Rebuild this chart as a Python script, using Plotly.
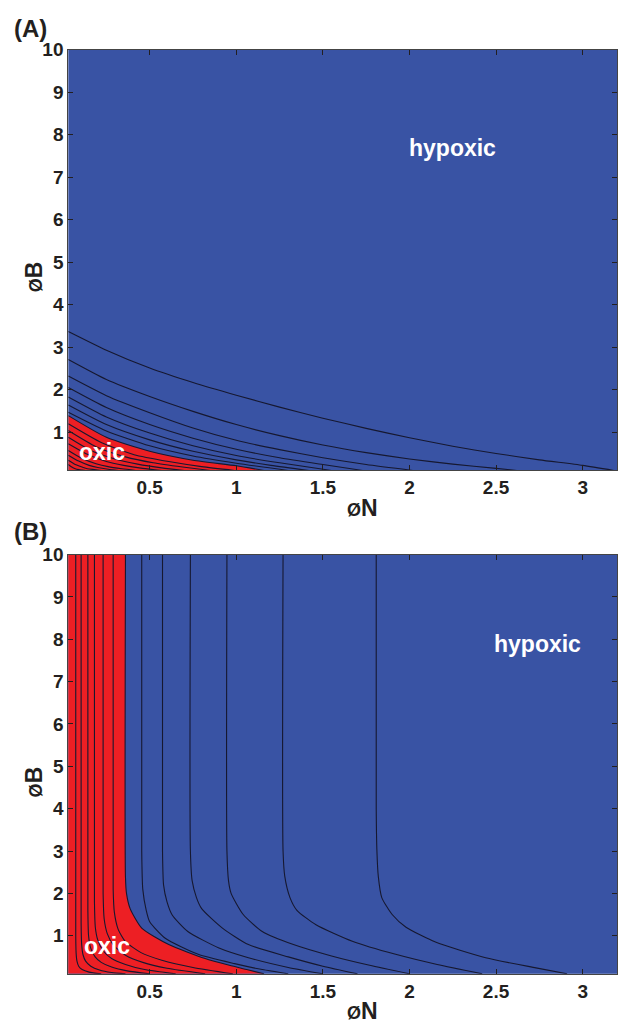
import plotly.graph_objects as go

W, H = 619, 1025
BLUE = "#3953A4"
RED = "#ED1F24"
LINE = "#161830"
FONT = "Liberation Sans, Arial, sans-serif"

# ---------------- Panel A contour lines (phi_N, phi_B) ----------------
a_blue_x = [
    [0.03, 0.25, 0.5, 0.75, 1.0, 1.25, 1.5, 1.75, 2.0, 2.25, 2.5, 2.75, 3.0, 3.18],
    [0.03, 0.25, 0.5, 0.75, 1.0, 1.25, 1.5, 1.75, 2.0, 2.25, 2.5, 2.62],
    [0.03, 0.25, 0.5, 0.75, 1.0, 1.25, 1.5, 1.75, 2.02],
    [0.03, 0.25, 0.5, 0.75, 1.0, 1.25, 1.5, 1.73],
    [0.03, 0.25, 0.5, 0.75, 1.0, 1.25, 1.55],
    [0.03, 0.25, 0.5, 0.75, 1.0, 1.2, 1.42],
    [0.03, 0.25, 0.5, 0.75, 1.0, 1.3],
]
a_blue_y = [
    [3.37, 2.93, 2.51, 2.17, 1.87, 1.59, 1.33, 1.09, 0.87, 0.67, 0.50, 0.35, 0.22, 0.10],
    [2.71, 2.24, 1.84, 1.49, 1.18, 0.92, 0.70, 0.52, 0.37, 0.25, 0.15, 0.10],
    [2.32, 1.86, 1.46, 1.10, 0.81, 0.59, 0.40, 0.24, 0.10],
    [2.05, 1.58, 1.18, 0.86, 0.60, 0.40, 0.24, 0.10],
    [1.83, 1.36, 0.98, 0.68, 0.45, 0.28, 0.10],
    [1.64, 1.18, 0.82, 0.55, 0.35, 0.22, 0.10],
    [1.47, 1.03, 0.68, 0.44, 0.27, 0.10],
]
a_edge_x = [0.03, 0.25, 0.5, 0.75, 1.0, 1.16]
a_edge_y = [1.39, 0.88, 0.55, 0.34, 0.21, 0.10]
a_red_x = [
    [0.03, 0.22, 0.41, 0.61, 0.80, 0.99],
    [0.03, 0.19, 0.36, 0.52, 0.69, 0.85],
    [0.03, 0.16, 0.30, 0.43, 0.57, 0.70],
    [0.03, 0.14, 0.25, 0.35, 0.46, 0.57],
    [0.03, 0.11, 0.19, 0.26, 0.34, 0.42],
    [0.03, 0.09, 0.15, 0.20, 0.26, 0.32],
    [0.03, 0.07, 0.11, 0.14, 0.18, 0.22],
    [0.03, 0.05, 0.07, 0.09, 0.11, 0.13],
]
a_red_y = [
    [1.20, 0.76, 0.47, 0.31, 0.19, 0.10],
    [1.04, 0.66, 0.42, 0.28, 0.18, 0.10],
    [0.88, 0.57, 0.37, 0.25, 0.16, 0.10],
    [0.73, 0.48, 0.31, 0.22, 0.15, 0.10],
    [0.57, 0.38, 0.26, 0.19, 0.14, 0.10],
    [0.46, 0.32, 0.22, 0.17, 0.13, 0.10],
    [0.34, 0.24, 0.18, 0.14, 0.12, 0.10],
    [0.24, 0.18, 0.14, 0.12, 0.11, 0.10],
]

# ---------------- Panel B contour lines ----------------
b_blue_x = [
    [0.454, 0.454, 0.46, 0.48, 0.50, 0.59, 0.78, 0.99, 1.15, 1.30],
    [0.574, 0.574, 0.58, 0.60, 0.63, 0.72, 0.90, 1.07, 1.30, 1.50],
    [0.735, 0.735, 0.745, 0.77, 0.80, 0.92, 1.07, 1.30, 1.50, 1.70],
    [0.946, 0.946, 0.955, 0.97, 1.04, 1.15, 1.33, 1.55, 1.77, 2.00],
    [1.270, 1.270, 1.28, 1.31, 1.35, 1.46, 1.67, 1.92, 2.16, 2.42],
    [1.808, 1.808, 1.812, 1.82, 1.84, 1.90, 1.98, 2.15, 2.44, 2.73, 2.91],
]
b_blue_y = [
    [10, 3.0, 2.1, 1.6, 1.33, 0.94, 0.56, 0.34, 0.20, 0.10],
    [10, 3.0, 2.2, 1.8, 1.49, 1.10, 0.71, 0.48, 0.25, 0.10],
    [10, 3.0, 2.3, 1.9, 1.64, 1.18, 0.79, 0.50, 0.28, 0.10],
    [10, 3.0, 2.3, 2.0, 1.50, 1.10, 0.79, 0.52, 0.30, 0.10],
    [10, 3.0, 2.4, 1.9, 1.60, 1.26, 0.87, 0.56, 0.32, 0.10],
    [10, 4.0, 3.0, 2.4, 1.90, 1.50, 1.20, 0.85, 0.48, 0.24, 0.10],
]
b_edge_x = [0.36, 0.36, 0.366, 0.387, 0.454, 0.61, 0.82, 0.96, 1.06, 1.16]
b_edge_y = [10, 2.4, 2.0, 1.64, 1.18, 0.79, 0.46, 0.30, 0.20, 0.10]
b_red_x = [
    [0.073, 0.073, 0.075, 0.08, 0.09, 0.11, 0.15, 0.22],
    [0.104, 0.104, 0.107, 0.115, 0.13, 0.16, 0.21, 0.28, 0.36],
    [0.143, 0.143, 0.147, 0.16, 0.185, 0.22, 0.28, 0.37, 0.50],
    [0.181, 0.181, 0.186, 0.20, 0.23, 0.28, 0.36, 0.47, 0.65],
    [0.231, 0.231, 0.237, 0.255, 0.29, 0.36, 0.46, 0.60, 0.82],
    [0.289, 0.289, 0.296, 0.318, 0.36, 0.45, 0.57, 0.75, 0.98],
]
b_red_y = [
    [10, 1.0, 0.6, 0.4, 0.28, 0.2, 0.14, 0.10],
    [10, 1.3, 0.8, 0.55, 0.40, 0.28, 0.19, 0.13, 0.10],
    [10, 1.6, 1.0, 0.70, 0.50, 0.37, 0.26, 0.17, 0.10],
    [10, 1.8, 1.2, 0.90, 0.65, 0.46, 0.32, 0.20, 0.10],
    [10, 2.0, 1.4, 1.05, 0.78, 0.54, 0.37, 0.23, 0.10],
    [10, 2.1, 1.55, 1.15, 0.86, 0.60, 0.42, 0.25, 0.10],
]

x_ticks = [0.5, 1, 1.5, 2, 2.5, 3]
x_tick_text = ["0.5", "1", "1.5", "2", "2.5", "3"]
y_ticks = [1, 2, 3, 4, 5, 6, 7, 8, 9, 10]
y_tick_text = [str(v) for v in y_ticks]
x_range = [0.03, 3.2]
y_range = [0.1, 10]

fig = go.Figure()


def line(x, y, xa, ya, **kw):
    fig.add_trace(go.Scatter(x=x, y=y, xaxis=xa, yaxis=ya, mode="lines",
                             line=dict(color=LINE, width=1.1, shape="spline", smoothing=0.6),
                             hoverinfo="skip", showlegend=False, **kw))


# Panel A
line(a_edge_x, a_edge_y, "x", "y", fill="tozeroy", fillcolor=RED)
for xs, ys in zip(a_blue_x, a_blue_y):
    line(xs, ys, "x", "y")
for xs, ys in zip(a_red_x, a_red_y):
    line(xs, ys, "x", "y")

# Panel B
line(b_edge_x, b_edge_y, "x2", "y2", fill="tozerox", fillcolor=RED)
for xs, ys in zip(b_blue_x, b_blue_y):
    line(xs, ys, "x2", "y2")
for xs, ys in zip(b_red_x, b_red_y):
    line(xs, ys, "x2", "y2")

tickfont = dict(family=FONT, size=19, color="#231F20", weight="bold")
axis_common = dict(showgrid=False, zeroline=False, showline=True,
                   linecolor="#444444", linewidth=1, mirror="ticks", ticks="inside",
                   ticklen=5, tickwidth=1.3, tickcolor="#231F20", tickfont=tickfont)

xd = [68.3 / W, 617.3 / W]
ya_dom = [1 - 465 / H, 1 - 40 / H]
yb_dom = [1 - 973.3 / H, 1 - 550 / H]

fig.update_layout(
    width=W, height=H, margin=dict(l=0, r=0, t=0, b=0),
    paper_bgcolor="white", plot_bgcolor=BLUE,
    xaxis=dict(**axis_common, range=x_range, domain=xd, anchor="y",
               tickvals=x_ticks, ticktext=x_tick_text),
    yaxis=dict(**axis_common, range=y_range, domain=ya_dom, anchor="x",
               tickvals=y_ticks, ticktext=y_tick_text),
    xaxis2=dict(**axis_common, range=x_range, domain=xd, anchor="y2",
                tickvals=x_ticks, ticktext=x_tick_text),
    yaxis2=dict(**axis_common, range=y_range, domain=yb_dom, anchor="x2",
                tickvals=y_ticks, ticktext=y_tick_text),
)

ann = []


def txt(text, px, py, size, color="#231F20", angle=0, xanchor="center"):
    ann.append(dict(text=text, x=px / W, y=1 - py / H, xref="paper", yref="paper",
                    showarrow=False, xanchor=xanchor, yanchor="middle", textangle=angle,
                    font=dict(family=FONT, size=size, color=color, weight="bold")))


txt("(A)", 12, 19, 24, xanchor="left")
txt("(B)", 12, 527, 24, xanchor="left")
xt = "<span style='font-size:18px'>Ø</span><span style='font-size:23px'>N</span>"
yt = "<span style='font-size:18px'>Ø</span><span style='font-size:23px'>B</span>"
txt(xt, 362, 503, 23)
txt(xt, 362, 1011, 23)
txt(yt, 34, 270, 23, angle=-90)
txt(yt, 34, 780, 23, angle=-90)
txt("hypoxic", 453, 139, 23, color="white")
txt("hypoxic", 537, 640, 23, color="white")
txt("oxic", 102, 446, 23, color="white")
txt("oxic", 107, 945, 23, color="white")
fig.update_layout(annotations=ann)

fig.write_html("out.html")
